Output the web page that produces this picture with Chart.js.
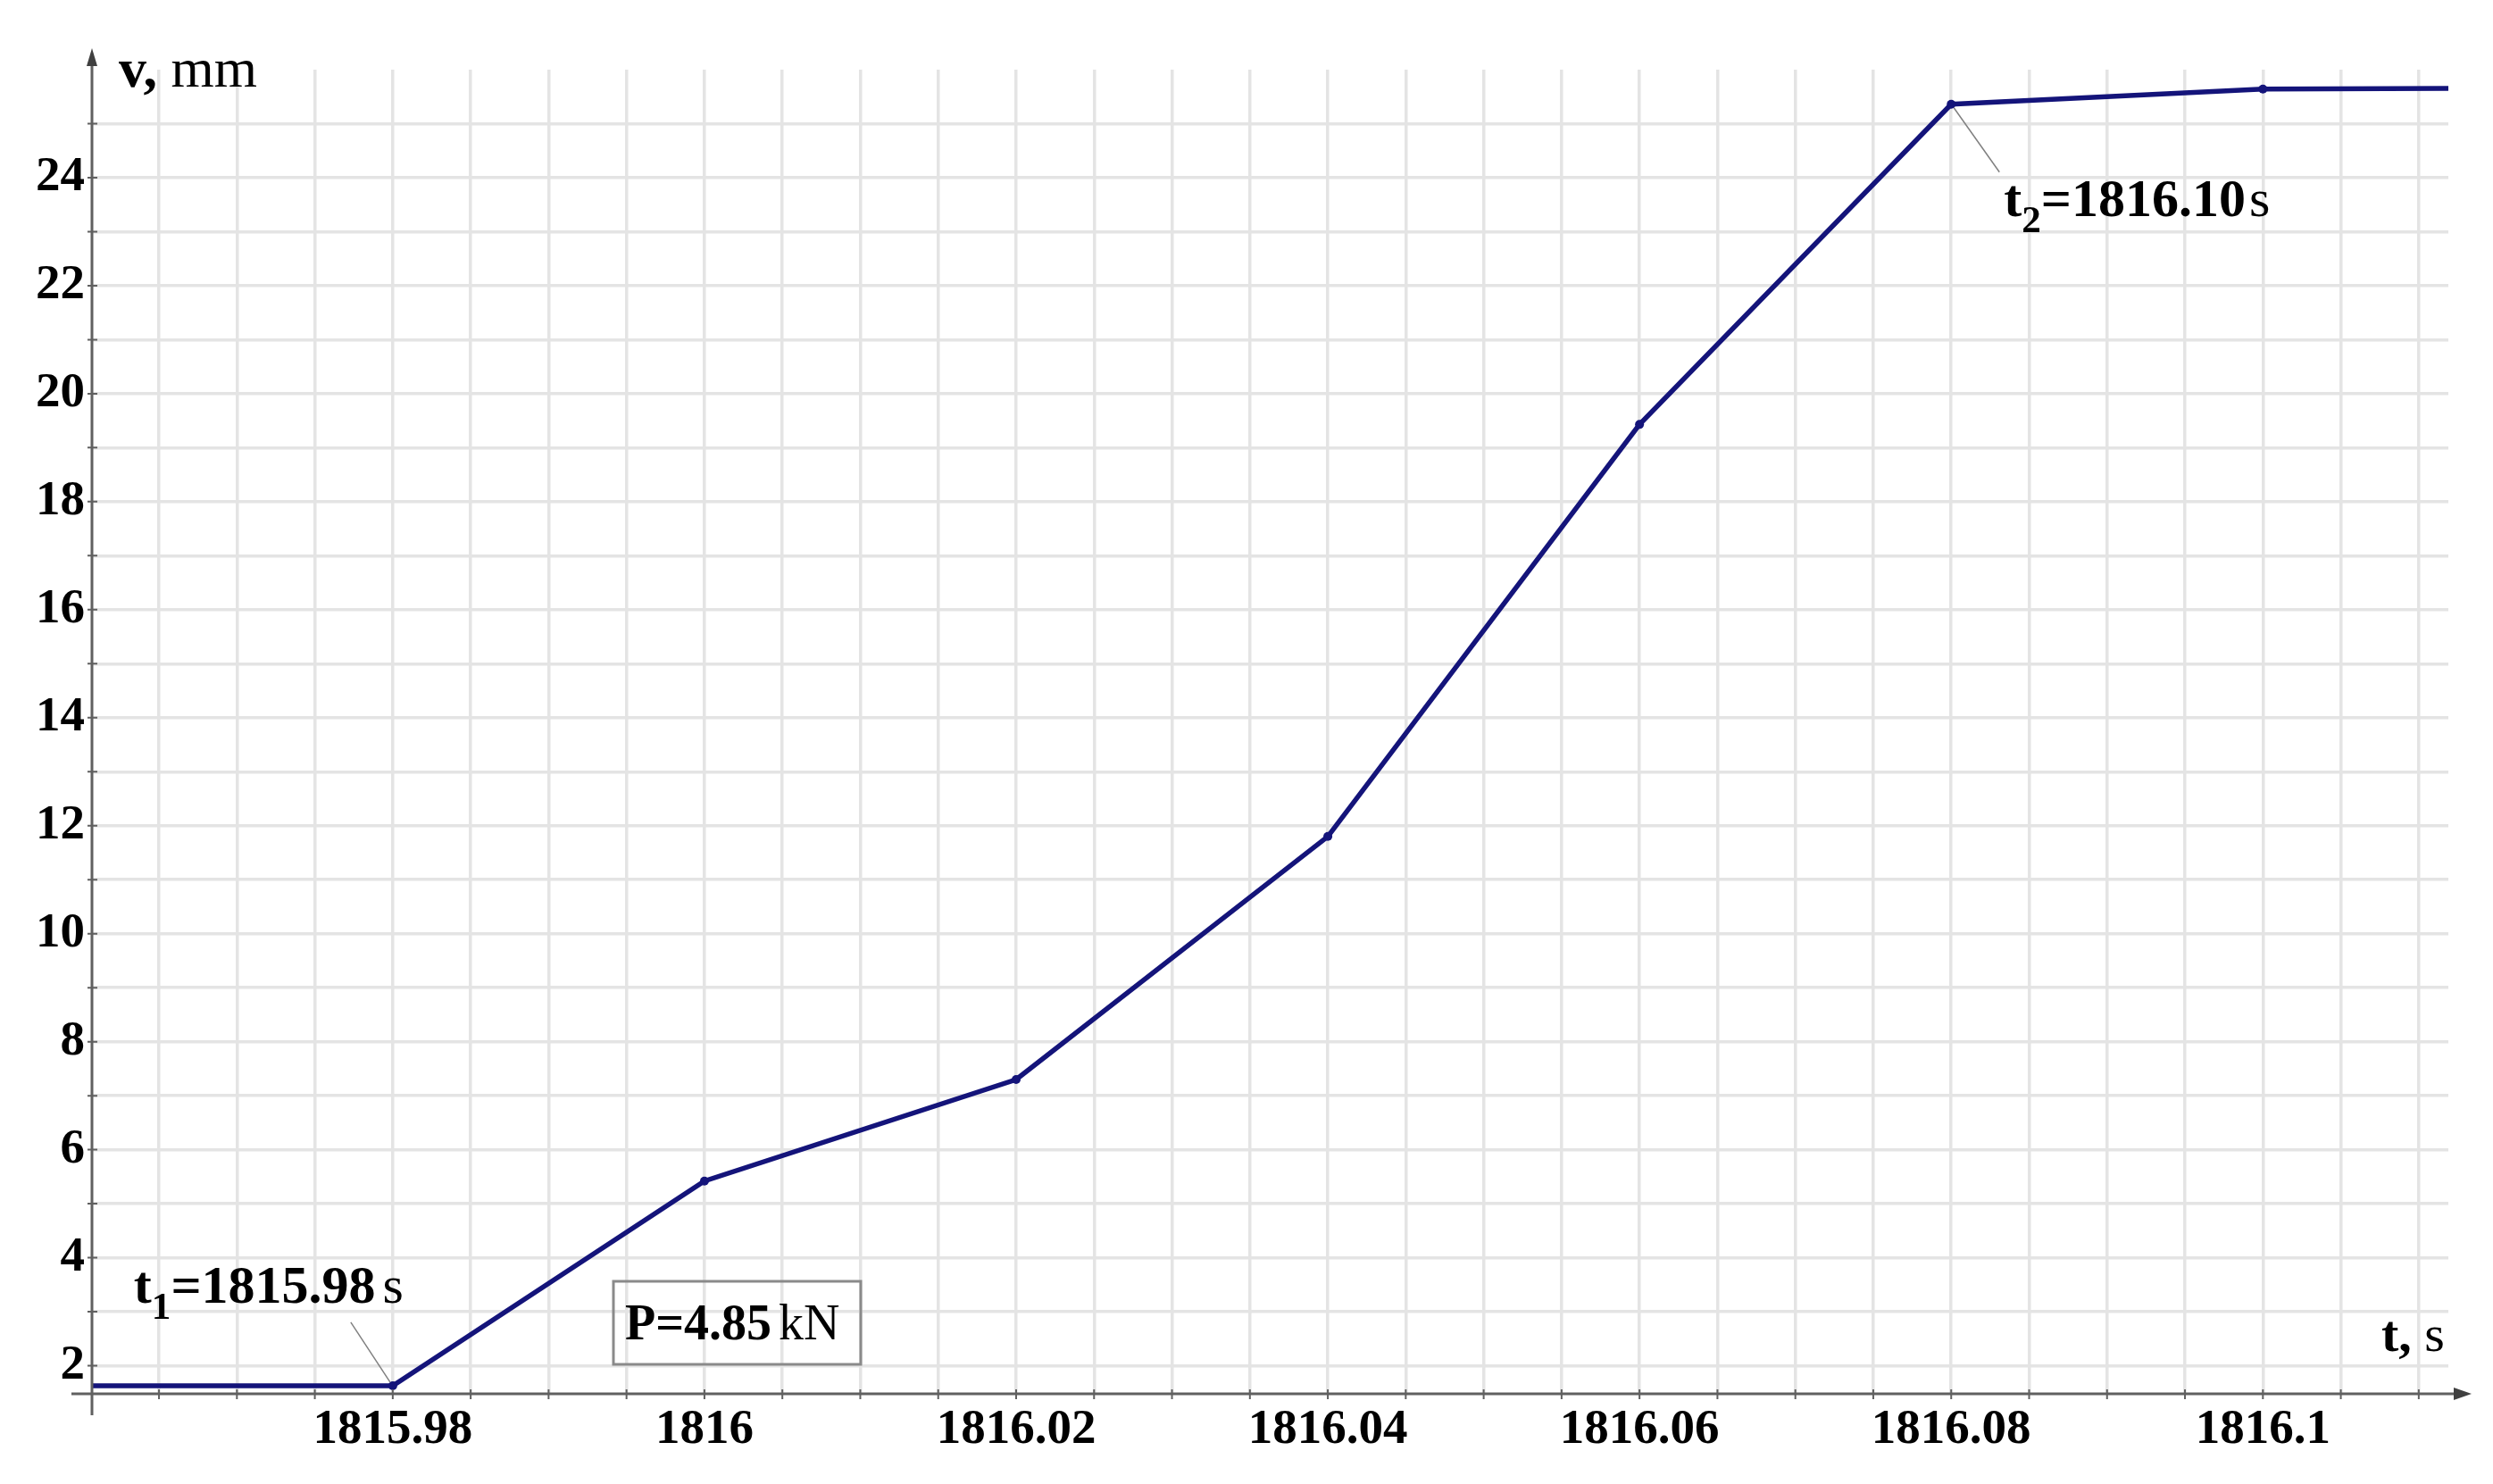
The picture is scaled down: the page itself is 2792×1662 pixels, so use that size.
<!DOCTYPE html>
<html>
<head>
<meta charset="utf-8">
<script src="https://cdn.jsdelivr.net/npm/chart.js@4.4.0/dist/chart.umd.min.js"></script>
<style>
  html, body { margin: 0; padding: 0; background: #fff; }
  #wrap { width: 2792px; height: 1662px; }
</style>
</head>
<body>
<div id="wrap"><canvas id="chart" width="2792" height="1662"></canvas></div>
<script>
// time, s and displacement v, mm
const timeValues = [1815.96, 1815.98, 1816.00, 1816.02, 1816.04, 1816.06, 1816.08, 1816.10, 1816.12];
const displacement = [1.63, 1.63, 5.42, 7.30, 11.80, 19.43, 25.36, 25.64, 25.66];

const xLabelTicks = [1815.98, 1816, 1816.02, 1816.04, 1816.06, 1816.08, 1816.1];
const yLabelTicks = [2, 4, 6, 8, 10, 12, 14, 16, 18, 20, 22, 24];

const xMin = 1815.9607, xMax = 1816.1119, xGridStep = 0.005;
const yMin = 1.48, yMax = 26, yGridStep = 1;

const lineColor = '#14147a';
const serif = '"Liberation Serif", "Times New Roman", serif';

function gridValues(first, last, step, dec) {
  const out = [];
  const n = Math.round((last - first) / step);
  for (let i = 0; i <= n; i++) out.push(Number((first + i * step).toFixed(dec)));
  return out;
}
const xGrid = gridValues(1815.965, 1816.11, xGridStep, 3);
const yGrid = gridValues(2, 25, yGridStep, 0);

function labelFor(list, value) {
  const hit = list.find(t => Math.abs(t - value) < 1e-6);
  return hit === undefined ? '' : String(hit);
}

function drawRuns(ctx, runs, x, y, size) {
  ctx.textBaseline = 'alphabetic';
  ctx.textAlign = 'left';
  ctx.fillStyle = '#000';
  runs.forEach(r => {
    const fs = r.sub ? size * 0.72 : size;
    ctx.font = (r.bold ? 'bold ' : '') + fs + 'px ' + serif;
    const dy = r.sub ? size * 0.3 : 0;
    x += r.before || 0;
    ctx.fillText(r.text, x, y + dy);
    x += ctx.measureText(r.text).width;
  });
}

const decorations = {
  id: 'decorations',
  afterDraw(chart) {
    const ctx = chart.ctx;
    const area = chart.chartArea;
    const xs = chart.scales.x, ys = chart.scales.y;
    ctx.save();

    // axes with arrows
    ctx.strokeStyle = '#606060';
    ctx.fillStyle = '#404040';
    ctx.lineWidth = 3;
    ctx.beginPath();
    ctx.moveTo(area.left, area.bottom + 24);
    ctx.lineTo(area.left, 64);
    ctx.moveTo(area.left - 23, area.bottom);
    ctx.lineTo(area.right + 8, area.bottom);
    ctx.stroke();
    ctx.beginPath();
    ctx.moveTo(area.left, 54);
    ctx.lineTo(area.left - 6, 74);
    ctx.lineTo(area.left + 6, 74);
    ctx.closePath();
    ctx.fill();
    ctx.beginPath();
    ctx.moveTo(area.right + 26, area.bottom);
    ctx.lineTo(area.right + 6, area.bottom - 7);
    ctx.lineTo(area.right + 6, area.bottom + 7);
    ctx.closePath();
    ctx.fill();

    // small tick marks on the axes
    ctx.lineWidth = 2;
    ctx.beginPath();
    xGrid.forEach(v => {
      const px = xs.getPixelForValue(v);
      ctx.moveTo(px, area.bottom - 5);
      ctx.lineTo(px, area.bottom + 6);
    });
    yGrid.forEach(v => {
      const py = ys.getPixelForValue(v);
      ctx.moveTo(area.left - 5, py);
      ctx.lineTo(area.left + 6, py);
    });
    ctx.stroke();

    // axis titles
    drawRuns(ctx, [{ text: 'v,', bold: true }, { text: ' mm' }], area.left + 30, 97, 62);
    drawRuns(ctx, [{ text: 't,', bold: true }, { text: ' s' }], 2667, 1513, 58);

    // t1 annotation
    const p1x = xs.getPixelForValue(timeValues[1]), p1y = ys.getPixelForValue(displacement[1]);
    ctx.strokeStyle = '#808080';
    ctx.lineWidth = 1.5;
    ctx.beginPath();
    ctx.moveTo(p1x - 3, p1y - 4);
    ctx.lineTo(p1x - 47, p1y - 71);
    ctx.stroke();
    drawRuns(ctx, [
      { text: 't', bold: true }, { text: '1', bold: true, sub: true },
      { text: '=1815.98', bold: true }, { text: 's', before: 8 }
    ], p1x - 290, p1y - 93, 60);

    // t2 annotation
    const p2x = xs.getPixelForValue(timeValues[6]), p2y = ys.getPixelForValue(displacement[6]);
    ctx.beginPath();
    ctx.moveTo(p2x + 3, p2y + 4);
    ctx.lineTo(p2x + 54, p2y + 76);
    ctx.stroke();
    drawRuns(ctx, [
      { text: 't', bold: true }, { text: '2', bold: true, sub: true },
      { text: '=1816.10', bold: true }, { text: 's', before: 4 }
    ], p2x + 59, p2y + 125, 60);

    // load box
    ctx.strokeStyle = '#8a8a8a';
    ctx.lineWidth = 3;
    ctx.strokeRect(687, 1435, 277, 93);
    drawRuns(ctx, [{ text: 'P=4.85', bold: true }, { text: 'kN', before: 8 }], 700, 1500, 56);

    ctx.restore();
  }
};

const ctx = document.getElementById('chart').getContext('2d');
new Chart(ctx, {
  type: 'line',
  data: {
    datasets: [{
      data: timeValues.map((t, i) => ({ x: t, y: displacement[i] })),
      borderColor: lineColor,
      backgroundColor: lineColor,
      borderWidth: 5.5,
      pointRadius: 5,
      pointBorderWidth: 0,
      pointBackgroundColor: lineColor,
      tension: 0
    }]
  },
  options: {
    responsive: false,
    animation: false,
    devicePixelRatio: 1,
    layout: { padding: { top: 78, right: 50, left: 0, bottom: 0 } },
    plugins: { legend: { display: false }, tooltip: { enabled: false }, title: { display: false } },
    scales: {
      x: {
        type: 'linear',
        min: xMin,
        max: xMax,
        afterBuildTicks: s => { s.ticks = xGrid.map(v => ({ value: v })); },
        afterFit: s => { s.height = 101; },
        ticks: {
          autoSkip: false,
          maxRotation: 0,
          padding: 8,
          color: '#000',
          font: { family: serif, size: 55, weight: 'bold' },
          callback: v => labelFor(xLabelTicks, v)
        },
        grid: { color: '#e4e4e4', lineWidth: 3.5, drawTicks: false },
        border: { display: false }
      },
      y: {
        type: 'linear',
        min: yMin,
        max: yMax,
        afterBuildTicks: s => { s.ticks = yGrid.map(v => ({ value: v })); },
        afterFit: s => { s.width = 103; },
        ticks: {
          autoSkip: false,
          padding: 8,
          color: '#000',
          font: { family: serif, size: 55, weight: 'bold' },
          callback: v => labelFor(yLabelTicks, v)
        },
        grid: { color: '#e4e4e4', lineWidth: 3.5, drawTicks: false },
        border: { display: false }
      }
    }
  },
  plugins: [decorations]
});
</script>
</body>
</html>
